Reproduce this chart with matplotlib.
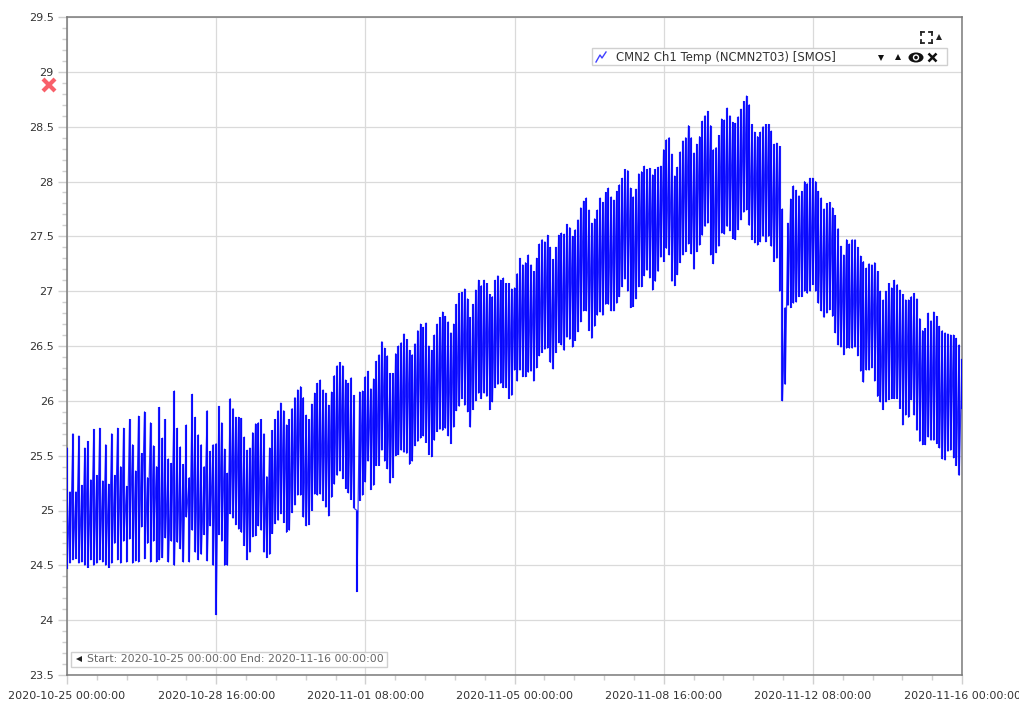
import numpy as np
import pandas as pd
import matplotlib
matplotlib.use("Agg")
import matplotlib.pyplot as plt
import matplotlib.dates as mdates
from matplotlib.patches import Rectangle, Ellipse, Circle

# values, one top/bottom pair per swing, per tick interval
tops_1 = [25.57, 25.17, 25.70, 25.17, 25.68, 25.23, 25.57, 25.63, 25.28, 25.74,
          25.32, 25.75, 25.27, 25.60, 25.24, 25.70, 25.32, 25.75, 25.40, 25.75,
          25.22, 25.83, 25.60, 25.36, 25.86, 25.52, 25.90, 25.30, 25.80, 25.59,
          25.40, 25.94, 25.66, 25.83, 25.47, 25.43, 26.09, 25.75, 25.58, 25.42,
          25.78, 25.30, 26.06, 25.85, 25.69, 25.60, 25.40, 25.91, 25.54, 25.60]
lows_1 = [24.47, 24.52, 24.55, 24.56, 24.52, 24.53, 24.50, 24.48, 24.55, 24.50,
          24.52, 24.55, 24.53, 24.50, 24.48, 24.52, 24.70, 24.55, 24.52, 24.72,
          24.53, 24.74, 24.52, 24.54, 24.53, 24.85, 24.56, 24.70, 24.53, 24.72,
          24.53, 24.55, 24.57, 24.75, 24.53, 24.72, 24.50, 24.71, 24.65, 24.53,
          24.94, 24.53, 24.82, 24.62, 24.55, 24.60, 24.78, 24.54, 24.86, 24.50]

tops_2 = [25.61, 25.95, 25.80, 25.56, 25.34, 26.02, 25.93, 25.85, 25.85, 25.84,
          25.67, 25.55, 25.57, 25.71, 25.79, 25.80, 25.83, 25.70, 25.31, 25.57,
          25.73, 25.83, 25.91, 25.98, 25.91, 25.78, 25.83, 25.93, 26.03, 26.10,
          26.13, 26.03, 25.87, 25.83, 25.97, 26.07, 26.16, 26.19, 26.10, 26.07,
          25.96, 26.08, 26.23, 26.32, 26.35, 26.32, 26.19, 26.16, 26.21, 26.05, 25.00,
          26.08, 26.09]
lows_2 = [24.05, 24.78, 24.72, 24.50, 24.50, 24.97, 24.93, 24.87, 24.83, 24.80,
          24.68, 24.55, 24.62, 24.76, 24.77, 24.86, 24.82, 24.62, 24.57, 24.60,
          24.79, 24.88, 24.91, 24.97, 24.89, 24.80, 24.82, 24.98, 25.05, 25.14,
          25.14, 24.94, 24.86, 24.87, 25.00, 25.15, 25.14, 25.15, 25.09, 25.03,
          24.95, 25.12, 25.24, 25.32, 25.36, 25.29, 25.20, 25.16, 25.10, 25.02, 24.26,
          25.09, 25.14]

tops_3 = [26.22, 26.27, 26.11, 26.20, 26.36, 26.42, 26.54, 26.48, 26.41, 26.25,
          26.25, 26.43, 26.50, 26.53, 26.61, 26.56, 26.46, 26.42, 26.52, 26.64,
          26.70, 26.67, 26.71, 26.50, 26.46, 26.60, 26.70, 26.76, 26.81, 26.77,
          26.72, 26.62, 26.70, 26.88, 26.98, 26.99, 27.02, 26.93, 26.76, 26.88,
          27.01, 27.10, 27.05, 27.10, 27.07, 26.97, 26.95, 27.10, 27.14, 27.10,
          27.12, 27.07, 27.07, 27.02]
lows_3 = [25.26, 25.45, 25.19, 25.23, 25.41, 25.41, 25.55, 25.45, 25.38, 25.25,
          25.30, 25.50, 25.51, 25.55, 25.53, 25.52, 25.42, 25.45, 25.59, 25.63,
          25.66, 25.68, 25.62, 25.51, 25.49, 25.64, 25.72, 25.74, 25.73, 25.75,
          25.68, 25.61, 25.76, 25.91, 25.95, 26.02, 25.96, 25.90, 25.76, 25.92,
          26.00, 26.07, 26.02, 26.07, 26.04, 25.92, 25.99, 26.12, 26.15, 26.16,
          26.12, 26.12, 26.02, 26.05]

tops_4 = [27.03, 27.16, 27.30, 27.24, 27.26, 27.33, 27.24, 27.18, 27.30, 27.43,
          27.47, 27.45, 27.51, 27.40, 27.29, 27.40, 27.51, 27.53, 27.52, 27.61,
          27.58, 27.50, 27.56, 27.65, 27.76, 27.82, 27.85, 27.74, 27.62, 27.66,
          27.74, 27.85, 27.81, 27.90, 27.94, 27.86, 27.83, 27.91, 27.97, 28.03,
          28.11, 28.10, 27.94, 27.86, 27.93, 28.07, 28.09, 28.14, 28.11, 28.12,
          28.06, 28.11, 28.13, 28.14]
lows_4 = [26.28, 26.18, 26.28, 26.22, 26.22, 26.26, 26.27, 26.18, 26.30, 26.41,
          26.44, 26.47, 26.48, 26.35, 26.29, 26.44, 26.53, 26.51, 26.46, 26.58,
          26.56, 26.49, 26.55, 26.63, 26.72, 26.82, 26.82, 26.64, 26.57, 26.68,
          26.78, 26.81, 26.78, 26.88, 26.88, 26.82, 26.82, 26.89, 26.95, 27.04,
          27.11, 27.00, 26.85, 26.86, 26.93, 27.04, 27.04, 27.14, 27.19, 27.12,
          27.01, 27.09, 27.18, 27.31]

tops_5 = [28.29, 28.38, 28.40, 28.25, 28.05, 28.13, 28.27, 28.37, 28.40, 28.51,
          28.40, 28.26, 28.34, 28.41, 28.55, 28.60, 28.64, 28.51, 28.29, 28.31,
          28.42, 28.57, 28.56, 28.67, 28.60, 28.54, 28.53, 28.59, 28.66, 28.73,
          28.78, 28.70, 28.52, 28.45, 28.41, 28.45, 28.50, 28.52, 28.52, 28.46,
          28.34, 28.35, 28.32, 27.75, 26.85, 27.62, 27.84, 27.96, 27.92, 27.87,
          27.91, 28.00, 27.98, 28.03]
lows_5 = [27.27, 27.39, 27.33, 27.09, 27.05, 27.15, 27.26, 27.33, 27.36, 27.43,
          27.34, 27.20, 27.36, 27.42, 27.51, 27.59, 27.62, 27.33, 27.25, 27.35,
          27.41, 27.53, 27.52, 27.59, 27.55, 27.48, 27.47, 27.56, 27.65, 27.72,
          27.74, 27.60, 27.47, 27.44, 27.42, 27.45, 27.50, 27.45, 27.50, 27.41,
          27.27, 27.30, 27.00, 26.00, 26.15, 26.87, 26.85, 26.89, 26.90, 26.95,
          26.95, 27.00, 26.98, 27.00]

tops_6 = [28.03, 28.00, 27.91, 27.85, 27.75, 27.80, 27.81, 27.76, 27.69, 27.57,
          27.41, 27.33, 27.47, 27.43, 27.47, 27.47, 27.40, 27.32, 27.27, 27.21,
          27.25, 27.24, 27.26, 27.18, 27.00, 26.92, 27.00, 27.07, 27.03, 27.10,
          27.06, 27.01, 26.97, 26.92, 26.92, 26.95, 26.98, 26.93, 26.75, 26.64,
          26.66, 26.80, 26.73, 26.81, 26.77, 26.68, 26.64, 26.62, 26.61, 26.60,
          26.60, 26.57, 26.51, 26.38]
lows_6 = [27.06, 27.00, 26.89, 26.82, 26.76, 26.80, 26.83, 26.77, 26.62, 26.51,
          26.49, 26.42, 26.48, 26.48, 26.48, 26.49, 26.41, 26.27, 26.17, 26.28,
          26.28, 26.30, 26.18, 26.04, 25.99, 25.92, 25.99, 26.01, 26.02, 26.02,
          26.02, 25.93, 25.78, 25.87, 25.85, 26.01, 25.87, 25.73, 25.63, 25.60,
          25.60, 25.67, 25.64, 25.64, 25.61, 25.57, 25.47, 25.46, 25.54, 25.55,
          25.48, 25.41, 25.32, 25.93]

all_tops = [tops_1, tops_2, tops_3, tops_4, tops_5, tops_6]
all_lows = [lows_1, lows_2, lows_3, lows_4, lows_5, lows_6]

tick_times = ["2020-10-25 00:00:00", "2020-10-28 16:00:00", "2020-11-01 08:00:00",
              "2020-11-05 00:00:00", "2020-11-08 16:00:00", "2020-11-12 08:00:00",
              "2020-11-16 00:00:00"]
y_ticks = [23.5, 24, 24.5, 25, 25.5, 26, 26.5, 27, 27.5, 28, 28.5, 29, 29.5]
series_name = "CMN2 Ch1 Temp (NCMN2T03) [SMOS]"
range_text = "Start: 2020-10-25 00:00:00 End: 2020-11-16 00:00:00"

W, H = 1020, 702
fig = plt.figure(figsize=(W / 100, H / 100), dpi=100)
ax = fig.add_axes([67 / W, 1 - 675 / H, (962 - 67) / W, (675 - 17) / H])

# one up/down swing per pair, spread evenly inside each tick interval
tick_nums = mdates.date2num(pd.to_datetime(tick_times))
xs, tops, lows = [], [], []
for k in range(6):
    n = len(all_tops[k])
    t = np.linspace(tick_nums[k], tick_nums[k + 1], n, endpoint=(k == 5))
    for i, (hi, lo) in enumerate(zip(all_tops[k], all_lows[k], strict=True)):
        xs.append(t[i])
        tops.append(hi)
        lows.append(lo)

# strokes first, then a thin trace through them so the middle of the band gets denser
ax.vlines(xs, lows, tops, color="#0000ff", lw=1.55, alpha=0.85, zorder=3)
line_x = np.repeat(xs, 2)
line_y = np.column_stack([tops, lows]).ravel()
ax.plot(line_x, line_y, color="#0000ff", lw=0.9, alpha=0.8, zorder=3)

ax.set_xlim(tick_nums[0], tick_nums[-1])
ax.set_ylim(23.5, 29.5)
ax.set_xticks(tick_nums)
ax.set_xticklabels(tick_times)
ax.xaxis.set_minor_locator(plt.FixedLocator(
    [a + (tick_nums[1] - tick_nums[0]) * j / 5 for a in tick_nums[:-1] for j in range(1, 5)]))
ax.set_yticks(y_ticks)
ax.set_yticklabels(["%g" % v for v in y_ticks])
ax.yaxis.set_minor_locator(plt.MultipleLocator(0.1))

ax.grid(True, which="major", color="#dadada", lw=0.9, zorder=0)
ax.set_axisbelow(True)
ax.tick_params(axis="both", which="major", length=6.5, width=1, color="#d0d0d0",
               labelsize=8.0, labelcolor="#333333")
ax.tick_params(axis="both", which="minor", length=3.5, width=1, color="#d0d0d0")
ax.tick_params(axis="y", which="major", pad=3)
ax.tick_params(axis="x", which="major", pad=5)
for s in ax.spines.values():
    s.set_color("#7a7a7a")
    s.set_linewidth(1.1)

# widgets drawn on top in pixel coordinates
ui = fig.add_axes([0, 0, 1, 1], facecolor="none")
ui.set_xlim(0, W)
ui.set_ylim(H, 0)
ui.axis("off")

# error mark
ui.plot([49], [85], marker="x", ms=9, mew=3, color="#f8606a")

# legend row
ui.add_patch(Rectangle((592.5, 47.5), 355, 17, fc="white", ec="#cccccc", lw=1, alpha=0.92))
ui.plot([596, 600, 602, 606], [62, 55, 58, 52], color="#4040ff", lw=1)
ui.text(616, 57, series_name, fontsize=8.4, color="#333333", va="center", ha="left")
ui.plot([881], [58], marker="v", ms=4.5, color="#111111", mew=0)
ui.plot([898], [57], marker="^", ms=4.5, color="#111111", mew=0)
ui.add_patch(Ellipse((916, 57.5), 15, 10, fc="#111111", ec="none"))
ui.add_patch(Circle((916, 57.5), 3.2, fc="white", ec="none"))
ui.add_patch(Circle((916, 57.5), 1.8, fc="#111111", ec="none"))
ui.plot([932], [57], marker="x", ms=6, mew=1.8, color="#111111")

# expand icon and its caret: corners point outwards
for cx, cy, dx, dy in [(921, 32, 1, 1), (932, 32, -1, 1), (921, 43, 1, -1), (932, 43, -1, -1)]:
    ui.plot([cx, cx + 3 * dx], [cy, cy], color="#222222", lw=1.3)
    ui.plot([cx, cx], [cy, cy + 3 * dy], color="#222222", lw=1.3)
ui.plot([939], [37], marker="^", ms=4.5, color="#222222", mew=0)

# range box
ui.add_patch(Rectangle((71.5, 651.5), 316, 15, fc="white", ec="#cccccc", lw=1, alpha=0.92))
ui.plot([79], [658.5], marker="<", ms=4.5, color="#222222", mew=0)
ui.text(87, 659, range_text, fontsize=7.85, color="#666666", va="center", ha="left")

fig.savefig("out.png", dpi=100)
